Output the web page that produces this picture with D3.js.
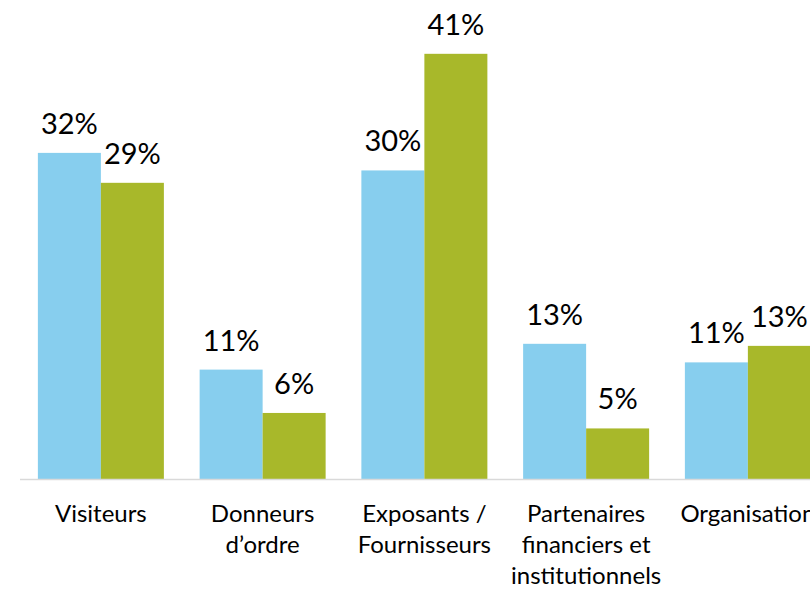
<!DOCTYPE html>
<html>
<head>
<meta charset="utf-8">
<script src="https://cdn.jsdelivr.net/npm/d3@7"></script>
<style>
  body { margin: 0; background: #fff; }
  svg { display: block; }
  text { font-family: Lato, "Open Sans", sans-serif; fill: #000; }
</style>
</head>
<body>
<svg width="810" height="590"></svg>
<script>
// categories (each label split on its lines)
var categories = ["Visiteurs", "Donneurs", "Exposants", "Partenaires", "Organisation"]
var categoryLines = [
  ["Visiteurs"],
  ["Donneurs", "d\u2019ordre"],
  ["Exposants /", "Fournisseurs"],
  ["Partenaires", "financiers et", "institutionnels"],
  ["Organisation"]
]
var seriesNames = ["blue", "green"]
// percentages
var blueValues = [31.6, 10.6, 29.9, 13.1, 11.3]
var greenValues = [28.7, 6.4, 41.2, 4.9, 12.9]
var colors = ["#87CEEE", "#A8B82A"]

var svg = d3.select('svg')

var x = d3.scaleBand()
  .domain(categories)
  .range([20, 20 + 161.75 * 5])
  .paddingInner(0.221)
  .paddingOuter(0.1105)

var xs = d3.scaleBand()
  .domain(seriesNames)
  .range([0, x.bandwidth()])

var y = d3.scaleLinear()
  .domain([0, 45])
  .range([479, 479 - 45 * 10.32])

var rows = categories.map(function(c, i) {
  return {cat: c, values: [blueValues[i], greenValues[i]]}
})

var groups = svg.append('g').classed('bars', true)
  .selectAll('g')
  .data(rows)
  .enter()
  .append('g')
  .attr('transform', function(d) {return 'translate(' + x(d.cat) + ',0)'})

groups.selectAll('rect')
  .data(function(d) {return d.values.map(function(v, j) {return {key: seriesNames[j], v: v, j: j}})})
  .enter()
  .append('rect')
  .attr('x', function(d) {return xs(d.key)})
  .attr('y', function(d) {return y(d.v)})
  .attr('width', xs.bandwidth())
  .attr('height', function(d) {return y(0) - y(d.v)})
  .attr('fill', function(d) {return colors[d.j]})

groups.selectAll('text.value')
  .data(function(d) {return d.values.map(function(v, j) {return {key: seriesNames[j], v: v}})})
  .enter()
  .append('text')
  .classed('value', true)
  .attr('x', function(d) {return xs(d.key) + xs.bandwidth() / 2})
  .attr('y', function(d) {return y(d.v) - 19})
  .attr('text-anchor', 'middle')
  .style('font-size', '29px')
  .text(function(d) {return Math.round(d.v) + '%'})

// baseline
svg.append('line')
  .attr('x1', 20)
  .attr('x2', 810)
  .attr('y1', y(0) + 0.5)
  .attr('y2', y(0) + 0.5)
  .attr('stroke', '#d9d9d9')
  .attr('stroke-width', 1.5)

// category labels
var labels = svg.append('g').classed('labels', true)
  .selectAll('text')
  .data(categories)
  .enter()
  .append('text')
  .attr('x', function(d) {return x(d) + x.bandwidth() / 2})
  .attr('y', 522)
  .attr('text-anchor', 'middle')
  .style('font-size', '24px')

labels.selectAll('tspan')
  .data(function(d, i) {return categoryLines[i]})
  .enter()
  .append('tspan')
  .attr('x', function() {return d3.select(this.parentNode).attr('x')})
  .attr('dy', function(d, i) {return i ? 31 : 0})
  .text(function(d) {return d})
</script>
</body>
</html>
